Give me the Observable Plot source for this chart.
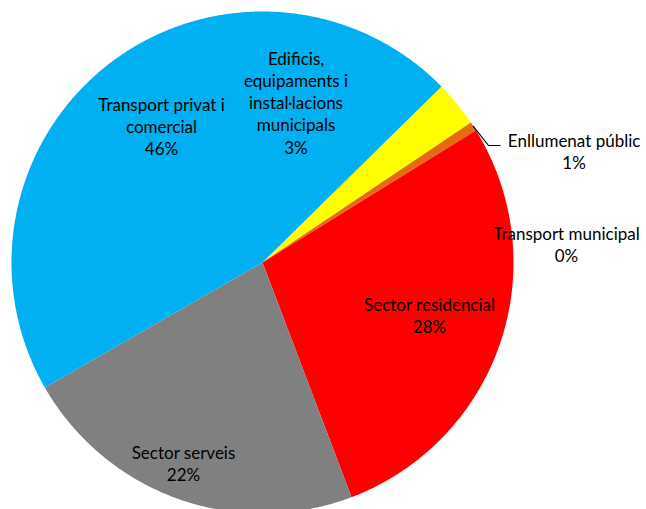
<!DOCTYPE html>
<html>
<head>
<meta charset="utf-8">
<script src="https://cdn.jsdelivr.net/npm/d3@7"></script>
<script src="https://cdn.jsdelivr.net/npm/@observablehq/plot@0.6"></script>
<style>
  html, body { margin: 0; padding: 0; background: #fff; overflow: hidden; }
</style>
</head>
<body>
<div id="chart"></div>
<script>
// ---- data ----
const categories = [
  "Edificis, equipaments i instal·lacions municipals",
  "Enllumenat públic",
  "Transport municipal",
  "Sector residencial",
  "Sector serveis",
  "Transport privat i comercial"
];
const values = [2.95, 0.56, 0.03, 28.05, 22.47, 45.94];
const labelNames = [
  "Edificis,\nequipaments i\ninstal·lacions\nmunicipals",
  "Enllumenat públic",
  "Transport municipal",
  "Sector residencial",
  "Sector serveis",
  "Transport privat i\ncomercial"
];

// ---- styles / layout (kept apart from data) ----
const colors = ["#FFFF00", "#E46C0A", "#FF0000", "#FF0000", "#808080", "#00B0F0"];
const R = 251;                       // pie radius in px (scale domain units)
const startDeg = 45.5;               // first slice angle
// label block centres, px offsets from the pie centre
const labelOffsets = [
  [33.5, -160.5],
  [311.6, -112.0],
  [304.0, -18.5],
  [167.0, 52.5],
  [-79.0, 200.5],
  [-101.0, -136.5]
];
const leaderIndex = 1;
const leaderBend = [[226, -117], [237.5, -117]];

// ---- build geometry from the data ----
const total = d3.sum(values);
const pie = d3.pie().sort(null).value(d => d)
  .startAngle(startDeg * Math.PI / 180)
  .endAngle(startDeg * Math.PI / 180 + 2 * Math.PI);
const arcs = pie(values);

const slicePts = [];
arcs.forEach((a, i) => {
  slicePts.push({k: i, x: 0, y: 0, c: colors[i]});
  const n = Math.max(2, Math.ceil((a.endAngle - a.startAngle) / 0.005));
  for (let j = 0; j <= n; j++) {
    const t = a.startAngle + (a.endAngle - a.startAngle) * j / n;
    slicePts.push({k: i, x: R * Math.sin(t), y: -R * Math.cos(t), c: colors[i]});
  }
  slicePts.push({k: i, x: 0, y: 0, c: colors[i]});
});

const labels = arcs.map((a, i) => ({
  x: labelOffsets[i][0],
  y: labelOffsets[i][1],
  text: labelNames[i] + "\n" + Math.round(values[i] / total * 100) + "%"
}));

const la = arcs[leaderIndex];
const mid = (la.startAngle + la.endAngle) / 2;
const leader = [
  {x: R * Math.sin(mid), y: -R * Math.cos(mid)},
  {x: leaderBend[0][0], y: leaderBend[0][1]},
  {x: leaderBend[1][0], y: leaderBend[1][1]}
];

const chart = Plot.plot({
  width: 646,
  height: 509,
  margin: 0,
  style: {background: "#fff", overflow: "hidden"},
  x: {domain: [-R, R], range: [262 - R, 262 + R], axis: null},
  y: {domain: [-R, R], range: [262 - R, 262 + R], axis: null},
  color: {type: "identity"},
  marks: [
    Plot.line(slicePts, {x: "x", y: "y", z: "k", fill: "c", stroke: null, curve: "linear"}),
    Plot.line(leader, {x: "x", y: "y", stroke: "#000", strokeWidth: 1.2}),
    Plot.text(labels, {
      x: "x", y: "y", text: "text",
      fontFamily: "Lato, 'Noto Sans', sans-serif",
      fontSize: 17, lineHeight: 1.31, fill: "#000", textAnchor: "middle"
    })
  ]
});
document.getElementById("chart").appendChild(chart);
</script>
</body>
</html>
